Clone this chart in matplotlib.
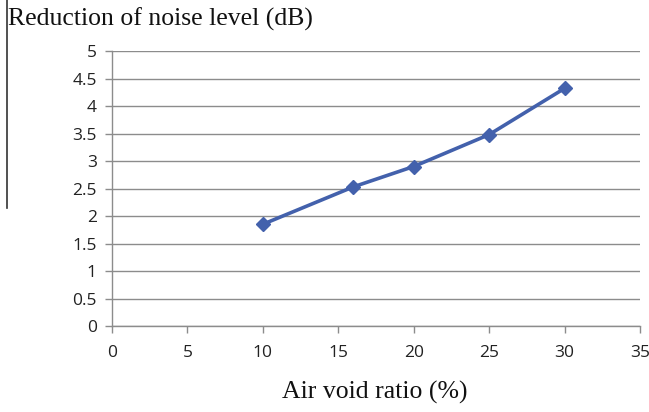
import matplotlib
matplotlib.use("Agg")
import matplotlib.pyplot as plt
from matplotlib.lines import Line2D

# Measured noise reduction vs. air void ratio
air_void = [10, 16, 20, 25, 30]
noise_reduction = [1.85, 2.53, 2.90, 3.48, 4.32]

x_ticks = [0, 5, 10, 15, 20, 25, 30, 35]
y_ticks = [0, 0.5, 1, 1.5, 2, 2.5, 3, 3.5, 4, 4.5, 5]

fig = plt.figure(figsize=(6.49, 4.12), dpi=100)
ax = fig.add_axes([0.1726, 0.2087, 0.8134, 0.6675])

line_color = "#4361AC"
ax.plot(air_void, noise_reduction, color=line_color, linewidth=2.6,
        marker="D", markersize=7, markerfacecolor=line_color,
        markeredgecolor=line_color, zorder=3)

ax.set_xlim(0, 35)
ax.set_ylim(0, 5)
ax.set_xticks(x_ticks)
ax.set_yticks(y_ticks)
ax.set_xticklabels([str(t) for t in x_ticks])
ax.set_yticklabels([f"{t:g}" for t in y_ticks])

grid_color = "#8C8C8C"
ax.yaxis.grid(True, color=grid_color, linewidth=1.0)
ax.set_axisbelow(True)
for side in ["top", "right"]:
    ax.spines[side].set_visible(False)
for side in ["left", "bottom"]:
    ax.spines[side].set_color(grid_color)
    ax.spines[side].set_linewidth(1.0)

ax.tick_params(axis="both", colors=grid_color, length=5, width=1.0,
               labelsize=12.5, labelcolor="#222222")
ax.tick_params(axis="x", pad=9)
ax.tick_params(axis="y", pad=6)
for lbl in ax.get_xticklabels() + ax.get_yticklabels():
    lbl.set_fontfamily("Open Sans")

fig.text(0.012, 0.953, "Reduction of noise level (dB)", family="Liberation Serif",
         fontsize=18.5, ha="left", va="center", color="#111111")
fig.text(0.578, 0.048, "Air void ratio (%)", family="Liberation Serif",
         fontsize=18.5, ha="center", va="center", color="#111111")

# thin rule down the left edge
fig.add_artist(Line2D([0.011, 0.011], [1.0, 0.495], transform=fig.transFigure,
                      color="#333333", linewidth=1.2))

fig.savefig("out.png", dpi=100)
